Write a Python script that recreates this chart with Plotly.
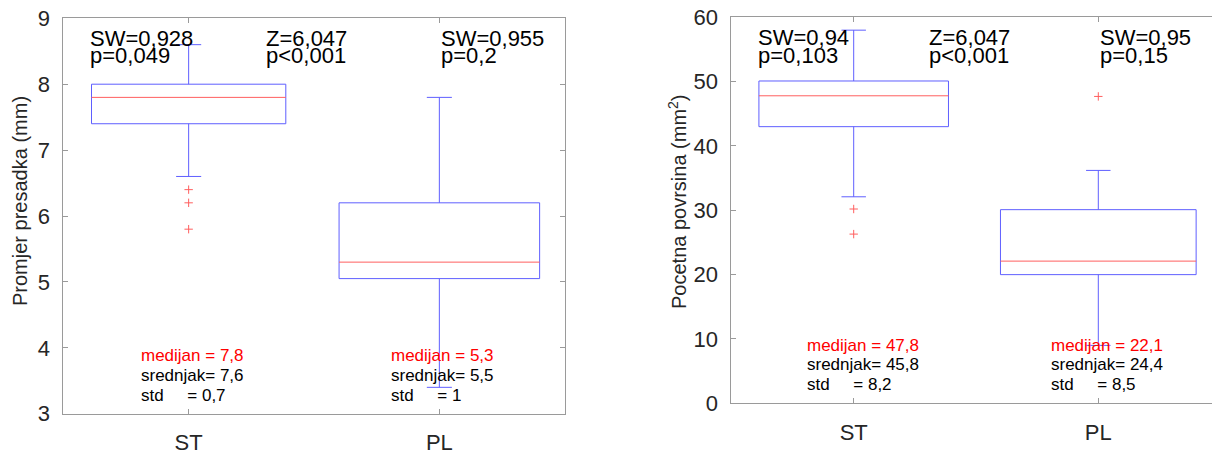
import plotly.graph_objects as go

# ---------------- data ----------------
categories = ["ST", "PL"]
positions = [1, 2]
box_widths = [0.775, 0.80]
cap_width = 0.1

# Left panel: Promjer presadka (mm)
diam_q1 = [7.4, 5.05]
diam_median = [7.8, 5.3]
diam_q3 = [8.0, 6.2]
diam_low = [6.6, 3.4]
diam_high = [8.6, 7.8]
diam_outliers_ST = [6.4, 6.2, 5.8]
diam_outliers_PL = []

# Right panel: Pocetna povrsina (mm^2)
area_q1 = [43.0, 20.0]
area_median = [47.8, 22.1]
area_q3 = [50.1, 30.1]
area_low = [32.1, 9.0]
area_high = [58.0, 36.2]
area_outliers_ST = [30.2, 26.3]
area_outliers_PL = [47.7]

# test annotations
diam_sw = ["SW=0,928", "SW=0,955"]
diam_sw_p = ["p=0,049", "p=0,2"]
area_sw = ["SW=0,94", "SW=0,95"]
area_sw_p = ["p=0,103", "p=0,15"]
z_text = ["Z=6,047", "p<0,001"]
diam_stats = [["medijan = 7,8", "srednjak= 7,6", "std     = 0,7"],
              ["medijan = 5,3", "srednjak= 5,5", "std     = 1"]]
area_stats = [["medijan = 47,8", "srednjak= 45,8", "std     = 8,2"],
              ["medijan = 22,1", "srednjak= 24,4", "std     = 8,5"]]

# ---------------- style ----------------
OFF = 8                      # default page body margin
W, H = 1220, 453
FONT = "Liberation Sans, Arial, Helvetica, sans-serif"
BLUE = "rgb(95,95,255)"
RED = "rgb(255,95,95)"
AXC = "#9a9a9a"
TXT = "#262626"

def px_x(v):
    return (v - OFF) / W

def px_y(v):
    return 1 - (v - OFF) / H

fig = go.Figure()

def add_panel(xa, ya, q1, med, q3, lo, hi, out_lists):
    bx, by, mx, my = [], [], [], []
    for i in range(2):
        p, w = positions[i], box_widths[i] / 2
        c = cap_width / 2
        bx += [p - w, p + w, p + w, p - w, p - w, None]
        by += [q1[i], q1[i], q3[i], q3[i], q1[i], None]
        bx += [p, p, None, p, p, None]
        by += [q3[i], hi[i], None, q1[i], lo[i], None]
        bx += [p - c, p + c, None, p - c, p + c, None]
        by += [hi[i], hi[i], None, lo[i], lo[i], None]
        mx += [p - w, p + w, None]
        my += [med[i], med[i], None]
    fig.add_trace(go.Scatter(x=bx, y=by, mode="lines", line=dict(color=BLUE, width=1),
                             hoverinfo="skip", showlegend=False, xaxis=xa, yaxis=ya))
    fig.add_trace(go.Scatter(x=mx, y=my, mode="lines", line=dict(color=RED, width=1),
                             hoverinfo="skip", showlegend=False, xaxis=xa, yaxis=ya))
    ox, oy = [], []
    for i in range(2):
        ox += [positions[i]] * len(out_lists[i])
        oy += list(out_lists[i])
    fig.add_trace(go.Scatter(
        x=ox, y=oy, mode="markers",
        marker=dict(symbol="cross-thin", size=6, line=dict(color=RED, width=1)),
        hoverinfo="skip", showlegend=False, xaxis=xa, yaxis=ya))

add_panel("x", "y", diam_q1, diam_median, diam_q3, diam_low, diam_high,
          [diam_outliers_ST, diam_outliers_PL])
add_panel("x2", "y2", area_q1, area_median, area_q3, area_low, area_high,
          [area_outliers_ST, area_outliers_PL])

axis_common = dict(showline=True, linecolor=AXC, linewidth=1, mirror="ticks",
                   ticks="inside", ticklen=5, tickcolor=AXC, showgrid=False,
                   zeroline=False, automargin=False, ticklabeloverflow="allow",
                   tickfont=dict(family=FONT, size=22, color=TXT))

fig.update_layout(
    template="none",
    width=W, height=H, margin=dict(l=0, r=0, t=0, b=0, autoexpand=False),
    plot_bgcolor="white", paper_bgcolor="white",
    xaxis=dict(domain=[px_x(63.3), px_x(564.7)], range=[0.5, 2.5],
               tickvals=positions, ticktext=categories, ticklabelstandoff=9,
               anchor="y", **axis_common),
    yaxis=dict(domain=[px_y(413.7), px_y(18.3)], range=[3, 9], dtick=1,
               ticklabelstandoff=8, anchor="x", **axis_common),
    xaxis2=dict(domain=[px_x(731.4), px_x(1220.6)], range=[0.5, 2.5],
                tickvals=positions, ticktext=categories, ticklabelstandoff=9,
                anchor="y2", **axis_common),
    yaxis2=dict(domain=[px_y(403.3), px_y(17.3)], range=[0, 60], dtick=10,
                ticklabelstandoff=8, anchor="x2", **axis_common),
)

ann = []
def txt(x, y, s, xr, yr, size, color=TXT):
    ann.append(dict(x=x, y=y, xref=xr, yref=yr, text=s, showarrow=False,
                    xanchor="left", yanchor="middle",
                    font=dict(family=FONT, size=size, color=color)))

top_x = [0.6, 2.0]
for i in range(2):
    txt(top_x[i], 8.70, diam_sw[i], "x", "y", 22, "black")
    txt(top_x[i], 8.43, diam_sw_p[i], "x", "y", 22, "black")
    txt(top_x[i], 56.8, area_sw[i], "x2", "y2", 22, "black")
    txt(top_x[i], 54.0, area_sw_p[i], "x2", "y2", 22, "black")
txt(1.3, 8.70, z_text[0], "x", "y", 22, "black")
txt(1.3, 8.43, z_text[1], "x", "y", 22, "black")
txt(1.3, 56.8, z_text[0], "x2", "y2", 22, "black")
txt(1.3, 54.0, z_text[1], "x2", "y2", 22, "black")

stat_x = [0.8, 1.8]
diam_y = [3.88, 3.58, 3.28]
area_y = [9.0, 6.0, 2.9]
for i in range(2):
    for j in range(3):
        col = "#ff0000" if j == 0 else "black"
        txt(stat_x[i], diam_y[j], diam_stats[i][j], "x", "y", 17, col)
        txt(stat_x[i], area_y[j], area_stats[i][j], "x2", "y2", 17, col)

ann.append(dict(x=px_x(20), y=px_y(201), xref="paper", yref="paper",
                text="Promjer presadka (mm)", textangle=-90, showarrow=False,
                xanchor="center", yanchor="middle",
                font=dict(family=FONT, size=20, color=TXT)))
ann.append(dict(x=px_x(678), y=px_y(202), xref="paper", yref="paper",
                text="Pocetna povrsina (mm<sup>2</sup>)", textangle=-90, showarrow=False,
                xanchor="center", yanchor="middle",
                font=dict(family=FONT, size=20, color=TXT)))

fig.update_layout(annotations=ann)
fig.write_html("out.html")
